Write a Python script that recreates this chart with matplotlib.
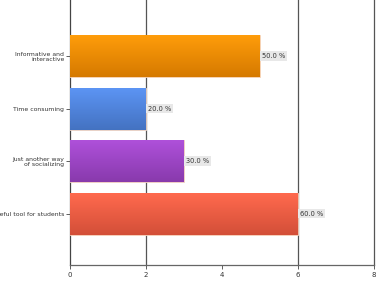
import numpy as np
import matplotlib.pyplot as plt
from matplotlib.colors import LinearSegmentedColormap, to_rgb

categories = ['Informative and\ninteractive', 'Time consuming',
              'Just another way\nof socializing', 'Useful tool for students']
values = [5, 2, 3, 6]
labels = ['50.0 %', '20.0 %', '30.0 %', '60.0 %']
colors = ['#f28a00', '#4d82dc', '#9b42c4', '#f05a40']
xticks = [0, 2, 4, 6, 8]

fig = plt.figure(figsize=(3.78, 2.82), dpi=100)
ax = fig.add_axes([0.185, 0.06, 0.804, 0.94])

y = np.arange(len(categories))
bars = ax.barh(y, values, height=0.8, color=colors, edgecolor='#f6d6c0', linewidth=0.6, zorder=3)

# vertical gradient on each bar (lighter top, darker bottom); y axis is inverted
grad = np.linspace(0, 1, 64).reshape(-1, 1)
for b, c in zip(bars, colors):
    rgb = np.array(to_rgb(c))
    cmap = LinearSegmentedColormap.from_list('g', [rgb * 0.88, np.clip(rgb * 1.06 + 0.04, 0, 1)])
    x0, y0 = b.get_x(), b.get_y()
    im = ax.imshow(grad, cmap=cmap, aspect='auto', zorder=3.5,
                   extent=(x0, x0 + b.get_width(), y0, y0 + b.get_height()))
    im.set_clip_path(b)

for yi, v, lab in zip(y, values, labels):
    ax.text(v + 0.05, yi, lab, va='center', ha='left', fontsize=4.8, color='#333333',
            bbox=dict(boxstyle='square,pad=0.25', fc='#e8e8e8', ec='none'), zorder=4)

# grid lines (the one at 4 is not shown in the original)
for gx in [2, 6, 8]:
    ax.axvline(gx, color='#555555', linewidth=0.9, zorder=1, clip_on=False)

ax.set_xlim(0, 8)
ax.set_ylim(3.98, -1.07)
ax.set_xticks(xticks)
ax.set_xticklabels([str(t) for t in xticks], fontsize=5, color='#333333')
ax.set_yticks(y)
ax.set_yticklabels(categories, fontsize=4.4, color='#333333', ha='right')
ax.tick_params(axis='y', length=3, width=0.6, color='#444444', pad=1)
ax.tick_params(axis='x', length=3, width=0.6, color='#444444', pad=2)

for s in ['top', 'right']:
    ax.spines[s].set_visible(False)
ax.spines['left'].set_color('#444444')
ax.spines['left'].set_linewidth(0.9)
ax.spines['bottom'].set_color('#666666')
ax.spines['bottom'].set_linewidth(0.9)

fig.savefig('out.png', dpi=100)
